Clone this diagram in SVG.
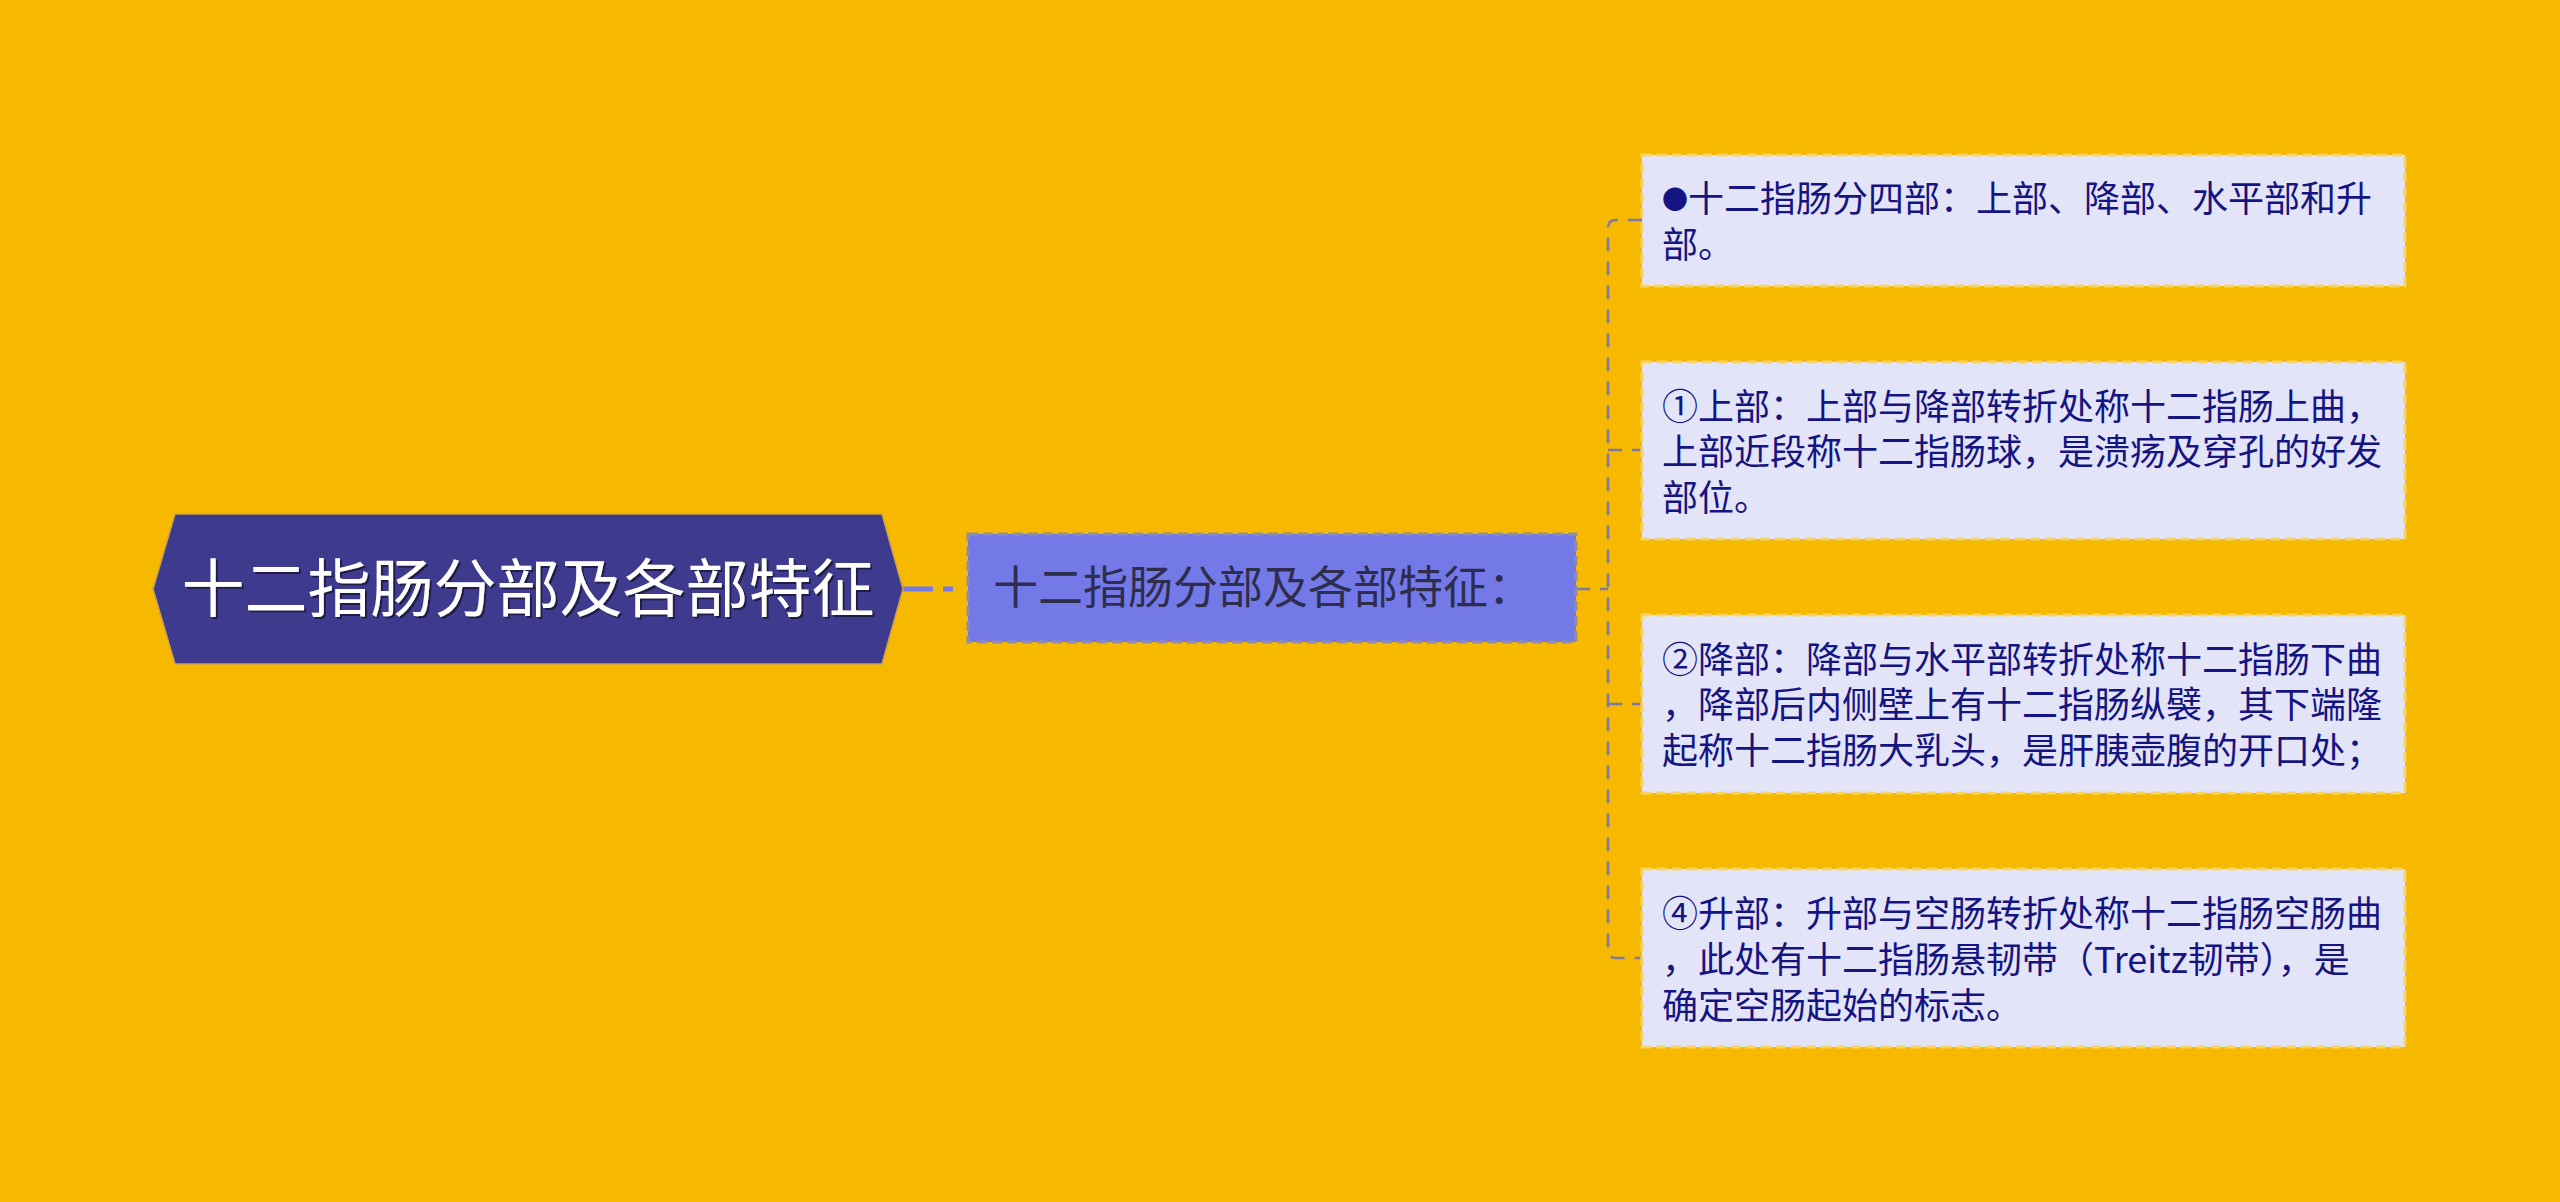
<svg xmlns="http://www.w3.org/2000/svg" width="2560" height="1202" viewBox="0 0 2560 1202">
<defs>
<filter id="sh" x="-5%" y="-20%" width="110%" height="140%"><feDropShadow dx="2" dy="2" stdDeviation="0.5" flood-color="#1a1840" flood-opacity="0.9"/></filter>
<style>
.cjk{font-family:"Noto Sans CJK SC","Noto Sans",sans-serif;}
.leaf rect{fill:#e4e4f8;stroke:#f7d46a;stroke-width:3;stroke-dasharray:10 5;}
.leaf text{font-size:36px;fill:#141483;}
.conn{fill:none;stroke:#7d7ba6;stroke-width:2.5;stroke-dasharray:14 10;}
</style>
</defs>
<rect width="2560" height="1202" fill="#f6b900"/>
<g id="connectors">
<path d="M903 589 H968" fill="none" stroke="#7479e8" stroke-width="5" stroke-dasharray="30 10 10 15"/>
<path class="conn" d="M1576 589 H1608"/>
<path class="conn" d="M1642 220 H1616 Q1608 220 1608 228 V950 Q1608 958 1616 958 H1642"/>
<path class="conn" d="M1608 450 H1642"/>
<path class="conn" d="M1608 704 H1642"/>
</g>
<g id="root">
<polygon points="153,589 175,514 882,514 903,589 882,664 175,664" fill="#3e3a8d" stroke="#c9a24a" stroke-width="1.5"/>
<text class="cjk" x="528" y="611" text-anchor="middle" font-size="63" fill="#ffffff" filter="url(#sh)">十二指肠分部及各部特征</text>
</g>
<g id="middle">
<rect x="968" y="534" width="608" height="108" fill="#7479e8" stroke="#8e8ca8" stroke-width="3" stroke-dasharray="10 5"/>
<text class="cjk" x="993" y="604" font-size="45" fill="#2e2d4d">十二指肠分部及各部特征：</text>
</g>
<g id="leaf1" class="leaf">
<rect x="1642" y="155" width="763" height="131"/>
<text class="cjk"><tspan x="1662" y="212"><tspan font-size="26" dy="-3">●</tspan><tspan dy="3">十二指肠分四部：上部、降部、水平部和升</tspan></tspan><tspan x="1662" y="258">部。</tspan></text>
</g>
<g id="leaf2" class="leaf">
<rect x="1642" y="362" width="763" height="177"/>
<text class="cjk"><tspan x="1662" y="420">①上部：上部与降部转折处称十二指肠上曲，</tspan><tspan x="1662" y="465">上部近段称十二指肠球，是溃疡及穿孔的好发</tspan><tspan x="1662" y="511">部位。</tspan></text>
</g>
<g id="leaf3" class="leaf">
<rect x="1642" y="615" width="763" height="178"/>
<text class="cjk"><tspan x="1662" y="673">②降部：降部与水平部转折处称十二指肠下曲</tspan><tspan x="1662" y="718">，降部后内侧壁上有十二指肠纵襞，其下端隆</tspan><tspan x="1662" y="764">起称十二指肠大乳头，是肝胰壶腹的开口处；</tspan></text>
</g>
<g id="leaf4" class="leaf">
<rect x="1642" y="869" width="763" height="178"/>
<text class="cjk"><tspan x="1662" y="927">④升部：升部与空肠转折处称十二指肠空肠曲</tspan><tspan x="1662" y="973">，此处有十二指肠悬韧带（Treitz韧带），是</tspan><tspan x="1662" y="1019">确定空肠起始的标志。</tspan></text>
</g>
</svg>
